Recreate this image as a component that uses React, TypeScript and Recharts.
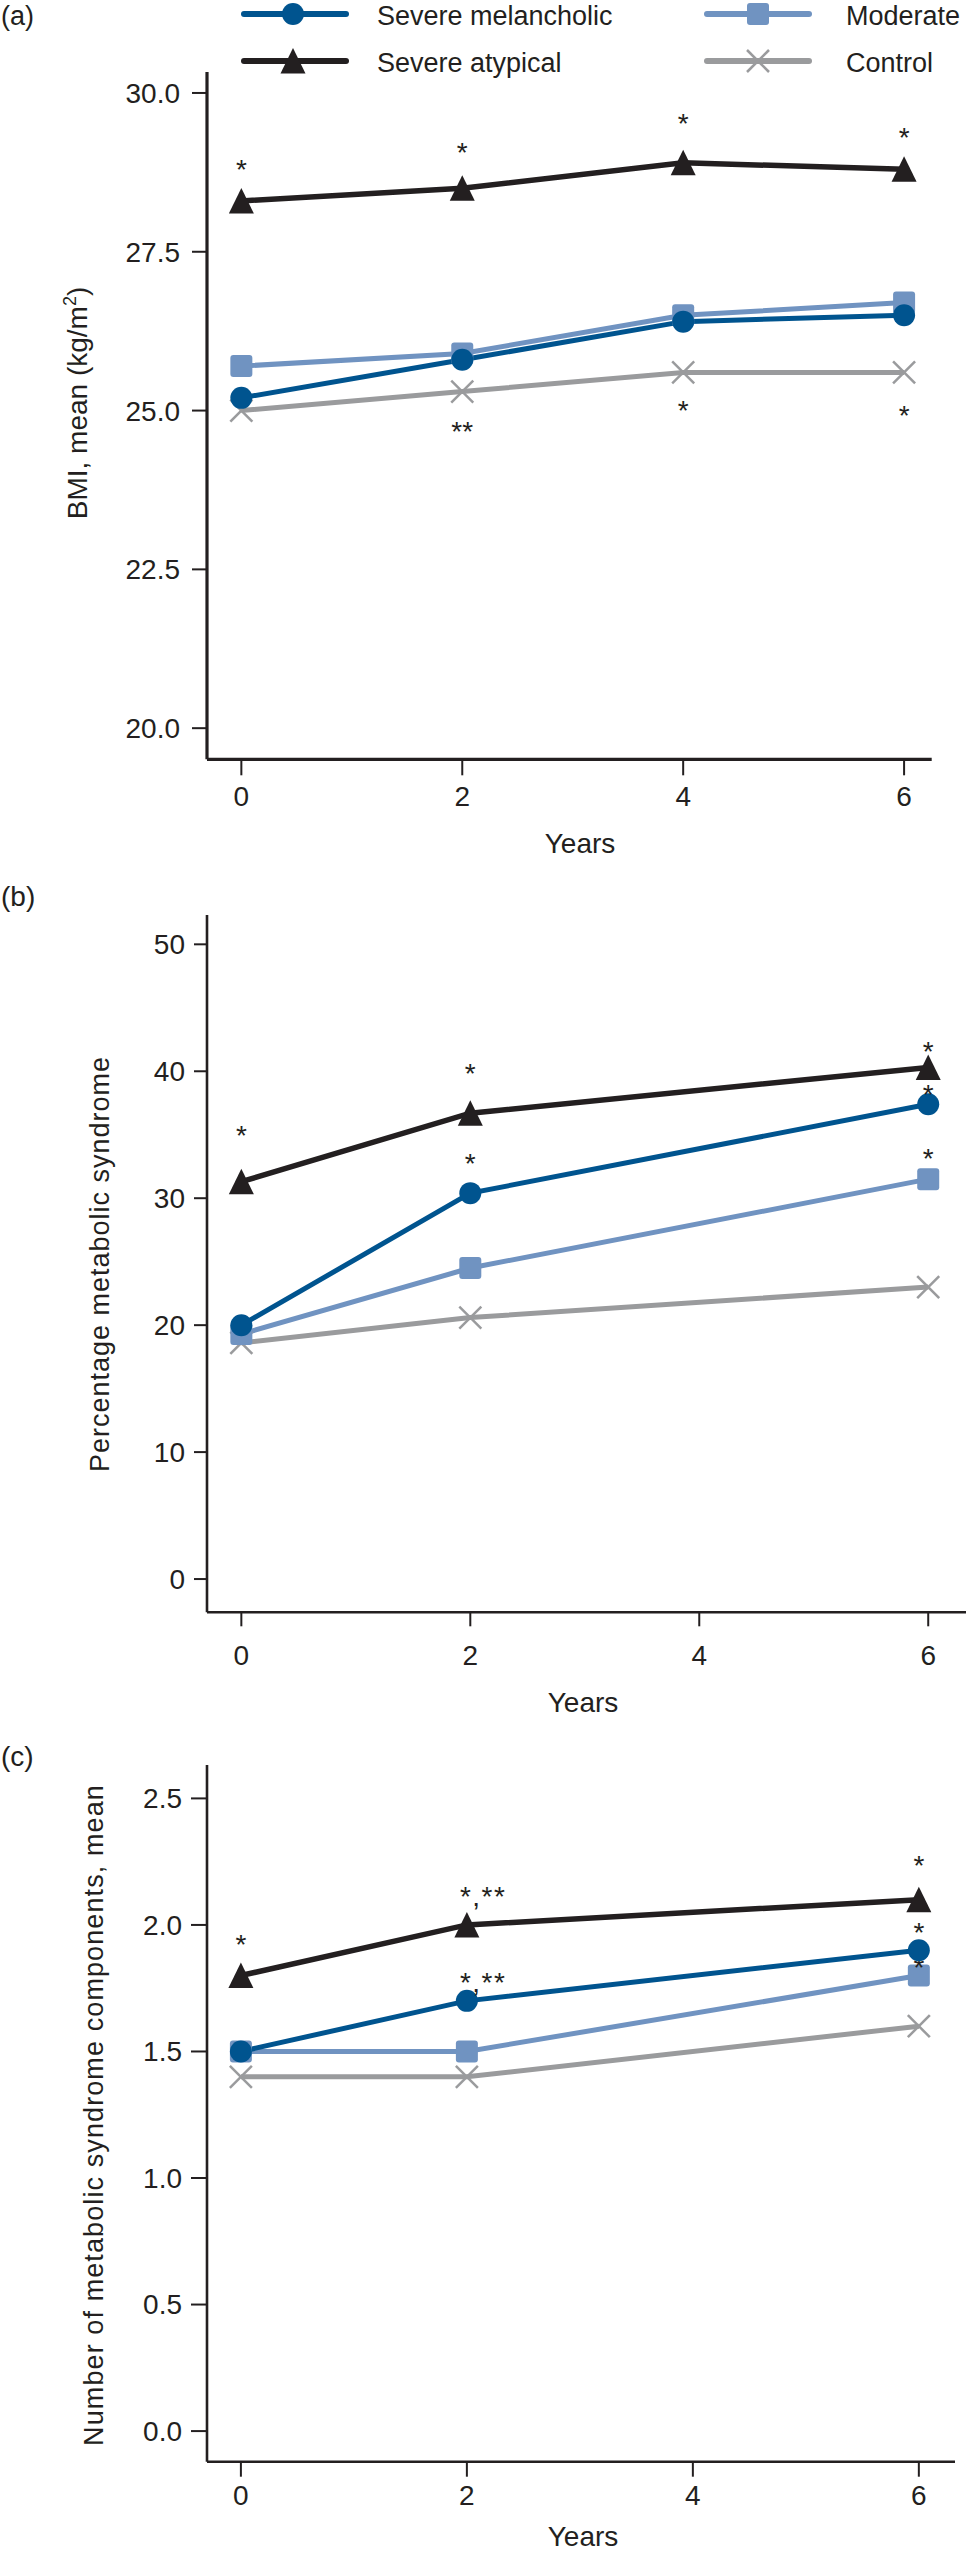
import React from 'react';
import { LineChart, Line, XAxis, YAxis } from 'recharts';

// ---------- data ----------
const yearsAll = [0, 2, 4, 6];
const yearsBC = [0, 2, 6];
const xTicks = [0, 2, 4, 6];

// (a) BMI, mean (kg/m2)
const bmiMelancholic = [25.2, 25.8, 26.4, 26.5];
const bmiModerate = [25.7, 25.9, 26.5, 26.7];
const bmiAtypical = [28.3, 28.5, 28.9, 28.8];
const bmiControl = [25.0, 25.3, 25.6, 25.6];
const bmiAtypicalNotes = ['*', '*', '*', '*'];
const bmiControlNotes = ['', '**', '*', '*'];
const bmiTicks = [20, 22.5, 25, 27.5, 30];

// (b) Percentage metabolic syndrome
const metMelancholic = [20.0, 30.4, 37.4];
const metModerate = [19.3, 24.5, 31.5];
const metAtypical = [31.3, 36.7, 40.3];
const metControl = [18.6, 20.6, 23.0];
const metAtypicalNotes = ['*', '*', '*'];
const metMelancholicNotes = ['', '*', '*'];
const metModerateNotes = ['', '', '*'];
const metTicks = [0, 10, 20, 30, 40, 50];

// (c) Number of metabolic syndrome components, mean
const compMelancholic = [1.5, 1.7, 1.9];
const compModerate = [1.5, 1.5, 1.8];
const compAtypical = [1.8, 2.0, 2.1];
const compControl = [1.4, 1.4, 1.6];
const compAtypicalNotes = ['*', '*,**', '*'];
const compMelancholicNotes = ['', '*,**', '*'];
const compModerateNotes = ['', '', '*'];
const compTicks = [0, 0.5, 1.0, 1.5, 2.0, 2.5];

const seriesNames = ['Severe melancholic', 'Moderate', 'Severe atypical', 'Control'];

// ---------- style ----------
const FONT = '"Liberation Sans", Arial, sans-serif';
const INK = '#231f20';
const C_MEL = '#00548f';
const C_MOD = '#7093c1';
const C_ATY = '#231f20';
const C_CON = '#9a9b9d';

// note vertical offsets (asterisk centre relative to point), styling only
const bmiAtyOff = [-37, -42, -45, -38];
const bmiConOff = [0, 34, 32, 37];
const metAtyOff = [-52, -46, -22];
const metMelOff = [0, -36, -16];
const metModOff = [0, 0, -27];
const compAtyOff = [-37, -34, -40];
const compMelOff = [0, -24, -24];
const compModOff = [0, 0, -14];

function buildRows(xs: number[], mel: number[], mod: number[], aty: number[], con: number[]) {
  return xs.map((x, i) => ({ year: x, mel: mel[i], mod: mod[i], aty: aty[i], con: con[i] }));
}

const dataA = buildRows(yearsAll, bmiMelancholic, bmiModerate, bmiAtypical, bmiControl);
const dataB = buildRows(yearsBC, metMelancholic, metModerate, metAtypical, metControl);
const dataC = buildRows(yearsBC, compMelancholic, compModerate, compAtypical, compControl);

type Shape = 'circle' | 'square' | 'triangle' | 'cross';

function Marker({ shape, cx, cy, color }: { shape: Shape; cx: number; cy: number; color: string }) {
  if (shape === 'circle') return <circle cx={cx} cy={cy} r={11} fill={color} />;
  if (shape === 'square') return <rect x={cx - 11} y={cy - 11} width={22} height={22} rx={3} fill={color} />;
  if (shape === 'triangle')
    return <polygon points={`${cx},${cy - 13} ${cx + 12.5},${cy + 12.5} ${cx - 12.5},${cy + 12.5}`} fill={color} />;
  return (
    <g stroke={color} strokeWidth={2.5}>
      <line x1={cx - 11} y1={cy - 11} x2={cx + 11} y2={cy + 11} />
      <line x1={cx - 11} y1={cy + 11} x2={cx + 11} y2={cy - 11} />
    </g>
  );
}

function makeDot(shape: Shape, color: string, notes?: string[], offsets?: number[]) {
  return (props: any) => {
    const { cx, cy, index } = props;
    if (cx == null || cy == null || isNaN(cx) || isNaN(cy)) return <g key={`n${index}`} />;
    const note = notes ? notes[index] : '';
    const off = offsets ? offsets[index] : 0;
    const multi = note && note.length > 2;
    return (
      <g key={`d${index}`}>
        <Marker shape={shape} cx={cx} cy={cy} color={color} />
        {note ? (
          <text
            x={multi ? cx - 7 : cx}
            y={cy + off + 15.5}
            textAnchor={multi ? 'start' : 'middle'}
            fontSize={28}
            fontFamily={FONT}
            fill={INK}
            letterSpacing={multi ? 1.5 : 0}
          >
            {note}
          </text>
        ) : null}
      </g>
    );
  };
}

interface PanelProps {
  top: number;
  height: number;
  margin: { top: number; right: number; bottom: number; left: number };
  data: any[];
  xDomain: [number, number];
  yDomain: [number, number];
  yTicks: number[];
  yFmt: (v: number) => string;
  axisW: number;
  xTickSize: number;
  xTickMargin: number;
  yTickSize: number;
  yTickMargin: number;
  dots: { mel: any; mod: any; aty: any; con: any };
}

function Panel(p: PanelProps) {
  return (
    <div style={{ position: 'absolute', left: 0, top: p.top, width: 968, height: p.height }}>
      <LineChart width={968} height={p.height} data={p.data} margin={p.margin} style={{ fontFamily: FONT }}>
        <XAxis
          dataKey="year"
          type="number"
          domain={p.xDomain}
          allowDataOverflow
          ticks={xTicks}
          interval={0}
          height={60}
          tickSize={p.xTickSize}
          tickMargin={p.xTickMargin}
          axisLine={{ stroke: INK, strokeWidth: p.axisW }}
          tickLine={{ stroke: INK, strokeWidth: 2 }}
          tick={{ fill: INK, fontSize: 28, fontFamily: FONT }}
        />
        <YAxis
          type="number"
          domain={p.yDomain}
          allowDataOverflow
          ticks={p.yTicks}
          interval={0}
          width={207}
          tickSize={p.yTickSize}
          tickMargin={p.yTickMargin}
          tickFormatter={p.yFmt}
          axisLine={{ stroke: INK, strokeWidth: p.axisW }}
          tickLine={{ stroke: INK, strokeWidth: 2 }}
          tick={{ fill: INK, fontSize: 28, fontFamily: FONT }}
        />
        <Line type="linear" dataKey="con" name={seriesNames[3]} stroke={C_CON} strokeWidth={5} dot={p.dots.con} activeDot={false} isAnimationActive={false} />
        <Line type="linear" dataKey="mod" name={seriesNames[1]} stroke={C_MOD} strokeWidth={5} dot={p.dots.mod} activeDot={false} isAnimationActive={false} />
        <Line type="linear" dataKey="mel" name={seriesNames[0]} stroke={C_MEL} strokeWidth={5} dot={p.dots.mel} activeDot={false} isAnimationActive={false} />
        <Line type="linear" dataKey="aty" name={seriesNames[2]} stroke={C_ATY} strokeWidth={5.5} dot={p.dots.aty} activeDot={false} isAnimationActive={false} />
      </LineChart>
    </div>
  );
}

function Overlay() {
  const txt = { fontFamily: FONT, fontSize: 28, fill: INK } as const;
  const legend = [
    { name: seriesNames[0], color: C_MEL, shape: 'circle' as Shape, lx: 244, mx: 293, tx: 377, y: 14 },
    { name: seriesNames[1], color: C_MOD, shape: 'square' as Shape, lx: 707, mx: 758, tx: 846, y: 14 },
    { name: seriesNames[2], color: C_ATY, shape: 'triangle' as Shape, lx: 244, mx: 293, tx: 377, y: 61 },
    { name: seriesNames[3], color: C_CON, shape: 'cross' as Shape, lx: 707, mx: 758, tx: 846, y: 61 },
  ];
  return (
    <svg
      width={968}
      height={2551}
      style={{ position: 'absolute', left: 0, top: 0, pointerEvents: 'none', overflow: 'visible' }}
    >
      {legend.map((l) => (
        <g key={l.name}>
          <line x1={l.lx} y1={l.y} x2={l.lx + 102} y2={l.y} stroke={l.color} strokeWidth={6} strokeLinecap="round" />
          <Marker shape={l.shape} cx={l.mx} cy={l.y} color={l.color} />
          <text x={l.tx} y={l.y + 11} {...txt} fontSize={27}>
            {l.name}
          </text>
        </g>
      ))}
      <text x={1} y={25} {...txt} fontSize={27}>(a)</text>
      <text x={1} y={906} {...txt}>(b)</text>
      <text x={1} y={1766} {...txt}>(c)</text>

      <text transform="translate(87,403) rotate(-90)" textAnchor="middle" {...txt}>
        BMI, mean (kg/m
        <tspan fontSize={18} dy={-11}>2</tspan>
        <tspan dy={11}>)</tspan>
      </text>
      <text transform="translate(108.5,1264) rotate(-90)" textAnchor="middle" {...txt} fontSize={27} letterSpacing={1}>
        Percentage metabolic syndrome
      </text>
      <text transform="translate(102.5,2115) rotate(-90)" textAnchor="middle" {...txt} fontSize={27} letterSpacing={1.1}>
        Number of metabolic syndrome components, mean
      </text>

      <text x={580} y={853} textAnchor="middle" {...txt}>Years</text>
      <text x={583} y={1712} textAnchor="middle" {...txt}>Years</text>
      <text x={583} y={2546} textAnchor="middle" {...txt}>Years</text>
    </svg>
  );
}

const dotsA = {
  mel: makeDot('circle', C_MEL),
  mod: makeDot('square', C_MOD),
  aty: makeDot('triangle', C_ATY, bmiAtypicalNotes, bmiAtyOff),
  con: makeDot('cross', C_CON, bmiControlNotes, bmiConOff),
};
const dotsB = {
  mel: makeDot('circle', C_MEL, metMelancholicNotes, metMelOff),
  mod: makeDot('square', C_MOD, metModerateNotes, metModOff),
  aty: makeDot('triangle', C_ATY, metAtypicalNotes, metAtyOff),
  con: makeDot('cross', C_CON),
};
const dotsC = {
  mel: makeDot('circle', C_MEL, compMelancholicNotes, compMelOff),
  mod: makeDot('square', C_MOD, compModerateNotes, compModOff),
  aty: makeDot('triangle', C_ATY, compAtypicalNotes, compAtyOff),
  con: makeDot('cross', C_CON),
};

export default function App() {
  return (
    <div style={{ position: 'absolute', left: 0, top: 0, width: 968, height: 2551, background: '#fff', overflow: 'hidden' }}>
      <Panel
        top={0}
        height={860}
        margin={{ top: 72, right: 36.3, bottom: 40.7, left: 0 }}
        data={dataA}
        xDomain={[-0.311, 6.25]}
        yDomain={[19.51, 30.33]}
        yTicks={bmiTicks}
        yFmt={(v) => v.toFixed(1)}
        axisW={3.2}
        xTickSize={16}
        xTickMargin={11}
        yTickSize={15}
        yTickMargin={12}
        dots={dotsA}
      />
      <Panel
        top={860}
        height={860}
        margin={{ top: 55, right: 2, bottom: 47.7, left: 0 }}
        data={dataB}
        xDomain={[-0.3, 6.33]}
        yDomain={[-2.62, 52.31]}
        yTicks={metTicks}
        yFmt={(v) => String(v)}
        axisW={2.6}
        xTickSize={14}
        xTickMargin={18.7}
        yTickSize={13}
        yTickMargin={9}
        dots={dotsB}
      />
      <Panel
        top={1720}
        height={831}
        margin={{ top: 45, right: 13, bottom: 29.3, left: 0 }}
        data={dataC}
        xDomain={[-0.3, 6.32]}
        yDomain={[-0.121, 2.632]}
        yTicks={compTicks}
        yFmt={(v) => v.toFixed(1)}
        axisW={2.6}
        xTickSize={15}
        xTickMargin={8.3}
        yTickSize={16}
        yTickMargin={9}
        dots={dotsC}
      />
      <Overlay />
    </div>
  );
}
